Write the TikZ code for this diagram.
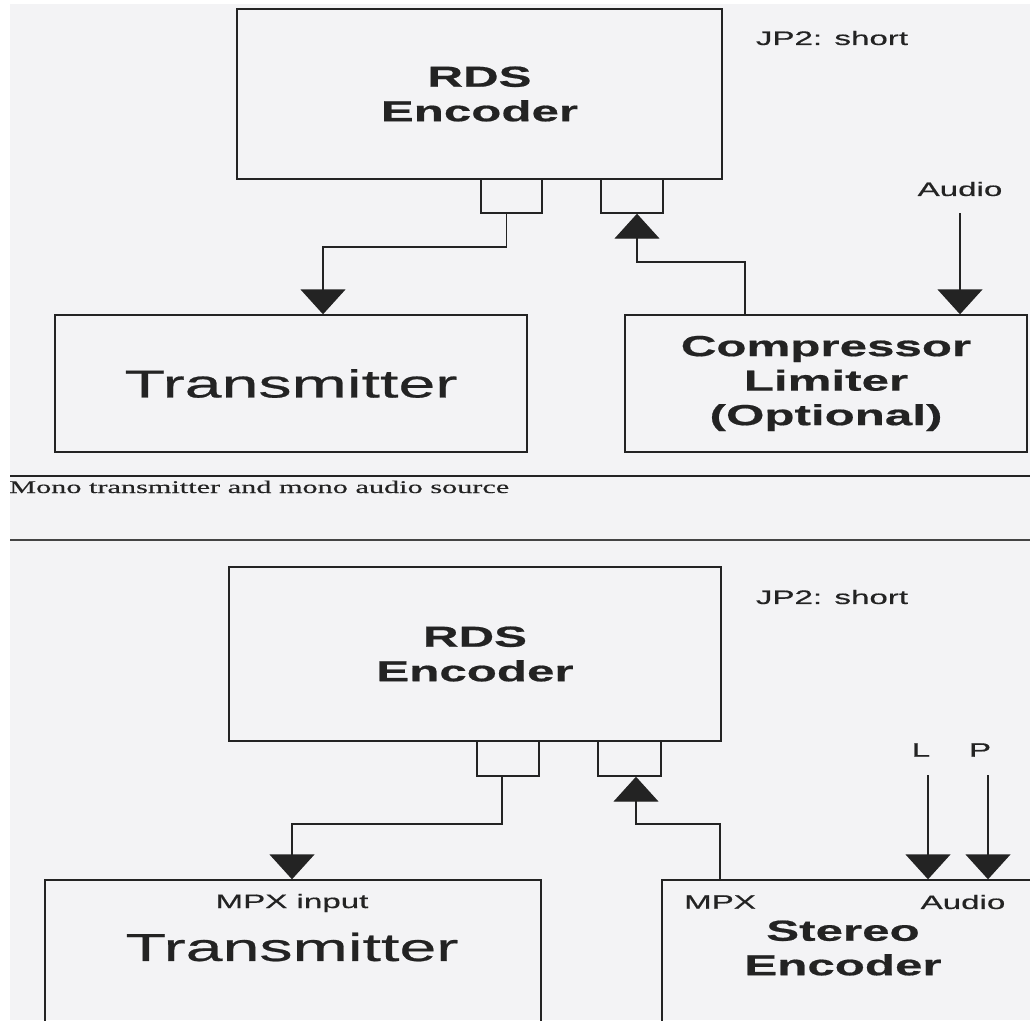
\documentclass[tikz,border=0pt]{standalone}
\usepackage{fontspec}
\setmainfont{Liberation Sans}[FakeStretch=1.7,FakeBold=0.6]
\newfontfamily\capfont{Liberation Serif}[FakeStretch=1.7,FakeBold=0.4]
\usetikzlibrary{arrows.meta,calc}
\definecolor{paper}{RGB}{243,243,245}
\definecolor{ink}{RGB}{35,35,35}
\begin{document}
\begin{tikzpicture}[x=1pt,y=-1pt,
  box/.style={draw=ink,line width=1.4pt,rectangle,inner sep=0pt},
  bigbold/.style={font=\bfseries\fontsize{29}{34.5}\selectfont,align=center,text=ink},
  hugetxt/.style={font=\fontsize{39}{46}\selectfont,text=ink},
  small/.style={font=\fontsize{19.5}{23}\selectfont,inner sep=0pt,text=ink},
  wire/.style={draw=ink,line width=1.4pt},
  arr/.style={wire,-{Triangle[width=45pt,length=25pt]}}
]
\fill[white] (0,0) rectangle (1030,1020);
\fill[paper] (10,4) rectangle (1030,1020);
\useasboundingbox (0,0) rectangle (1030,1020);
\clip (0,0) rectangle (1030,1020);

% ---------- top diagram ----------
\node[box,minimum width=485pt,minimum height=170pt,bigbold] (rds1) at (479.5,94) {RDS\\Encoder};
\node[box,minimum width=61pt,minimum height=34pt] (ls1) at (511.5,196) {};
\node[box,minimum width=62pt,minimum height=34pt] (rs1) at (632,196) {};
\node[box,minimum width=472pt,minimum height=137pt,hugetxt] (tx1) at (291,383.5) {Transmitter};
\node[box,minimum width=402pt,minimum height=137pt,bigbold] (cl1) at (826,383.5) {Compressor\\Limiter\\(Optional)};
\node[small] (jp1) at (832,38) {JP2: short};
\node[small] (au1) at (960,189) {Audio};

\coordinate (c1) at (323,247);
\coordinate (c2) at (637,262);
\coordinate (c2b) at (745,0);
\coordinate (aa) at (960,213);
\draw[arr] ($(ls1.south)+(-5,0)$) |- (c1) -- (c1 |- tx1.north);
\draw[arr] (c2b |- cl1.north) |- (c2) -- (c2 |- rs1.south);
\draw[arr] (aa) -- (aa |- cl1.north);

% ---------- separator and caption ----------
\coordinate (s1a) at (10,476);
\coordinate (s1b) at (1030,476);
\coordinate (s2a) at (10,540);
\coordinate (s2b) at (1030,540);
\draw[line width=1.6pt,ink] (s1a) -- (s1b);
\draw[line width=1.3pt,ink!85] (s2a) -- (s2b);
\node[anchor=base west,inner sep=0pt,font=\capfont\fontsize{17.8}{21}\selectfont,text=ink] (cap) at (9,493) {Mono transmitter and mono audio source};

% ---------- bottom diagram ----------
\node[box,minimum width=492pt,minimum height=174pt,bigbold] (rds2) at (475,654) {RDS\\Encoder};
\node[box,minimum width=62pt,minimum height=35pt] (ls2) at (508,758.5) {};
\node[box,minimum width=63pt,minimum height=35pt] (rs2) at (629.5,758.5) {};
\node[small] (jp2) at (832,597) {JP2: short};
\node[box,minimum width=496pt,minimum height=180pt] (tx2) at (293,970) {};
\node[small] (mpxin) at (292,903) {MPX input};
\node[hugetxt] (txl2) at (292,947) {Transmitter};
\node[box,minimum width=398pt,minimum height=180pt] (se) at (861,970) {};
\node[small] (mpx) at (720,902) {MPX};
\node[small] (au2) at (963,902) {Audio};
\node[bigbold] (sel) at (843,948) {Stereo\\Encoder};
\node[small] (lL) at (921,750) {L};
\node[small] (lP) at (980,750) {P};

\coordinate (c3) at (292,824);
\coordinate (c4) at (636,824);
\coordinate (c4b) at (720,0);
\coordinate (la) at (928,775);
\coordinate (pa) at (988,775);
\draw[arr] ($(ls2.south)+(-6,0)$) |- (c3) -- (c3 |- tx2.north);
\draw[arr] (c4b |- se.north) |- (c4) -- (c4 |- rs2.south);
\draw[arr] (la) -- (la |- se.north);
\draw[arr] (pa) -- (pa |- se.north);
\end{tikzpicture}
\end{document}
